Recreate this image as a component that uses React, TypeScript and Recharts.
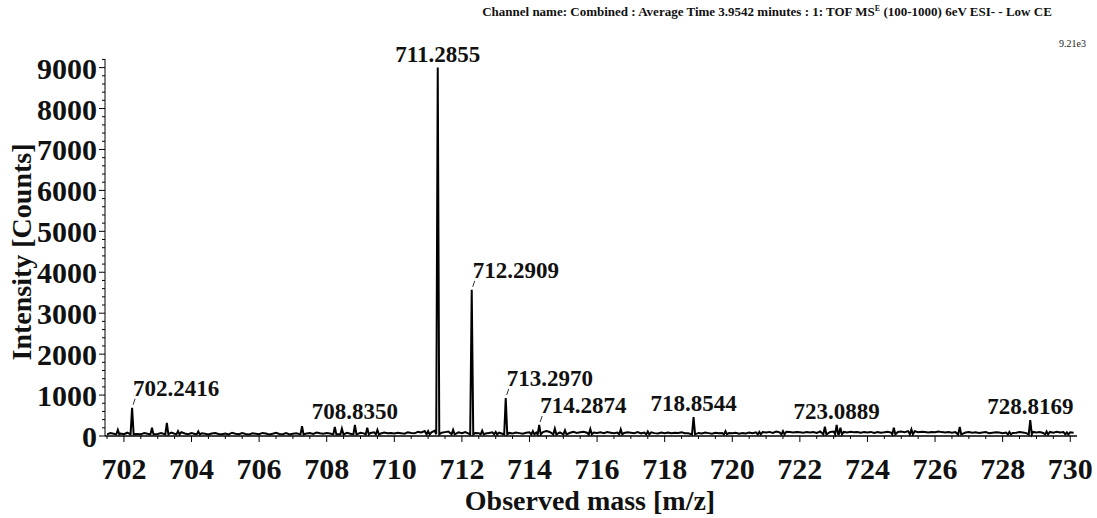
import React from "react";
import { ComposedChart, Line, Scatter, XAxis, YAxis } from "recharts";

// Labelled peaks (m/z, intensity in counts)
const LABEL_MZ = [702.2416, 708.835, 711.2855, 712.2909, 713.297, 714.2874, 718.8544, 723.0889, 728.8169];
const LABEL_INT = [690, 270, 9000, 3570, 930, 270, 460, 270, 390];
// peaks whose label sits off to the right with a small leader tick
const LEADER_MZ = [702.2416, 712.2909, 713.297, 714.2874];

// Unlabelled minor peaks
const MINOR_MZ = [701.82, 702.83, 703.27, 703.6, 704.2, 707.27, 708.24, 708.45, 709.2, 709.5, 711.0, 711.74, 712.6, 713.0, 714.1, 714.75, 715.05, 715.8, 716.7, 717.5, 719.8, 720.8, 721.5, 722.74, 723.2, 724.78, 725.3, 726.73, 728.2, 729.3, 729.9];
const MINOR_INT = [150, 200, 320, 120, 110, 240, 220, 180, 200, 150, 120, 150, 130, 100, 120, 180, 140, 170, 160, 110, 120, 100, 120, 230, 200, 200, 160, 220, 100, 110, 90];

// Baseline noise, one value every 0.1 m/z starting at 701.5
const NOISE_START = 701.5;
const NOISE = [
  40, 70, 55, 30, 60,
  45, 80, 35, 60, 50, 40, 75, 55, 90, 60,
  50, 70, 45, 60, 85, 55, 40, 95, 60, 45,
  70, 50, 40, 65, 55, 35, 60, 75, 50, 45,
  60, 40, 80, 55, 45, 70, 50, 35, 65, 55,
  45, 75, 60, 40, 55, 80, 50, 45, 70, 40,
  55, 65, 45, 90, 60, 70, 50, 85, 65, 55,
  75, 60, 110, 70, 90, 60, 80, 55, 70, 95,
  80, 65, 100, 75, 90, 70, 60, 85, 65, 75,
  60, 80, 70, 55, 90, 75, 65, 100, 85, 120,
  110, 90, 130, 100, 80, 95, 110, 75, 85, 90,
  70, 95, 60, 80, 75, 70, 85, 60, 75, 90,
  65, 80, 55, 70, 75, 60, 85, 70, 55, 80,
  90, 70, 85, 110, 95, 120, 100, 85, 110, 90,
  95, 110, 80, 100, 75, 90, 105, 80, 95, 85,
  75, 90, 70, 95, 80, 65, 85, 100, 75, 90,
  80, 70, 95, 65, 85, 75, 90, 70, 60, 85,
  70, 85, 65, 80, 75, 90, 70, 65, 80, 60,
  75, 60, 85, 70, 55, 80, 65, 75, 60, 70,
  65, 80, 55, 70, 60, 85, 70, 90, 75, 95,
  85, 100, 75, 110, 90, 80, 105, 95, 85, 100,
  90, 80, 100, 85, 95, 75, 110, 95, 120, 100,
  110, 95, 120, 100, 85, 105, 90, 100, 80, 95,
  85, 100, 75, 95, 80, 90, 105, 85, 120, 100,
  110, 95, 120, 100, 115, 90, 105, 95, 85, 100,
  90, 110, 95, 85, 100, 80, 95, 90, 105, 85,
  95, 80, 90, 75, 85, 95, 70, 80, 90, 85,
  70, 85, 90, 75, 80, 95, 85, 70, 90, 100,
  85, 95, 75, 90, 100, 80, 105, 85, 95, 110,
  90, 80,
];

const X_TICKS = Array.from({ length: 58 }, (_, i) => 701.5 + i * 0.5);
const Y_TICKS = Array.from({ length: 47 }, (_, i) => i * 200);

const PEAK_FOOT = 40;
const HALF_WIDTH = 0.045;
const FONT = '"Liberation Serif", "Times New Roman", serif';

const allPeaks = [
  ...LABEL_MZ.map((mz, i) => ({ mz, h: LABEL_INT[i] })),
  ...MINOR_MZ.map((mz, i) => ({ mz, h: MINOR_INT[i] })),
];

const spectrum = (() => {
  const pts = NOISE.map((v, i) => ({ mz: +(NOISE_START + i * 0.1).toFixed(2), intensity: v }))
    .filter((p) => !allPeaks.some((k) => Math.abs(k.mz - p.mz) < 0.07));
  allPeaks.forEach((k) => {
    pts.push({ mz: k.mz - HALF_WIDTH, intensity: PEAK_FOOT });
    pts.push({ mz: k.mz, intensity: k.h });
    pts.push({ mz: k.mz + HALF_WIDTH, intensity: PEAK_FOOT });
  });
  return pts.sort((a, b) => a.mz - b.mz);
})();

const labelData = LABEL_MZ.map((mz, i) => ({
  mz,
  intensity: LABEL_INT[i],
  text: mz.toFixed(4),
  leader: LEADER_MZ.includes(mz),
}));

const XTick = ({ x, y, payload }: any) => {
  const v = payload.value;
  const major = Math.abs(v % 2) < 1e-6;
  return (
    <g>
      <line x1={x} x2={x} y1={y} y2={y + (major ? 6 : 3)} stroke="#000" strokeWidth={1} />
      {major && (
        <text x={x} y={y + 43} textAnchor="middle" fontFamily={FONT} fontWeight="bold" fontSize={30} fill="#111">
          {v}
        </text>
      )}
    </g>
  );
};

const YTick = ({ x, y, payload }: any) => {
  const v = payload.value;
  const major = v % 1000 === 0;
  return (
    <g>
      <line x1={x} x2={x - (major ? 6 : 3)} y1={y} y2={y} stroke="#000" strokeWidth={1} />
      {major && (
        <text x={x - 8} y={y + 11} textAnchor="end" fontFamily={FONT} fontWeight="bold" fontSize={30} fill="#111">
          {v}
        </text>
      )}
    </g>
  );
};

const PeakLabel = ({ cx, cy, payload }: any) => {
  if (payload.leader) {
    return (
      <g>
        <line x1={cx + 1} y1={cy - 3} x2={cx + 3} y2={cy - 9} stroke="#333" strokeWidth={1} />
        <text x={cx + 1} y={cy - 12} fontFamily={FONT} fontWeight="bold" fontSize={23} fill="#111">
          {payload.text}
        </text>
      </g>
    );
  }
  return (
    <text x={cx} y={cy - 6} textAnchor="middle" fontFamily={FONT} fontWeight="bold" fontSize={23} fill="#111">
      {payload.text}
    </text>
  );
};

export default function App() {
  return (
    <div style={{ position: "absolute", left: 0, top: 0, width: 1097, height: 518, background: "#fff", fontFamily: FONT }}>
      <div style={{ position: "absolute", left: 440, width: 654, top: 4, textAlign: "center", fontSize: 13, fontWeight: "bold", color: "#111", whiteSpace: "nowrap" }}>
        Channel name: Combined : Average Time 3.9542 minutes : 1: TOF MS<sup style={{ fontSize: 8 }}>E</sup> (100-1000) 6eV ESI- - Low CE
      </div>
      <div style={{ position: "absolute", right: 11, top: 38, fontSize: 10, color: "#222" }}>9.21e3</div>
      <div
        style={{
          position: "absolute",
          left: 22,
          top: 252,
          transform: "translate(-50%, -50%) rotate(-90deg)",
          fontSize: 28,
          fontWeight: "bold",
          color: "#111",
          whiteSpace: "nowrap",
          lineHeight: 1,
        }}
      >
        Intensity [Counts]
      </div>
      <div style={{ position: "absolute", left: 0, width: 1180, top: 487, textAlign: "center", fontSize: 28, fontWeight: "bold", color: "#111", lineHeight: 1 }}>
        Observed mass [m/z]
      </div>
      <ComposedChart
        width={1097}
        height={518}
        data={spectrum}
        margin={{ top: 59, right: 20, left: 0, bottom: 0 }}
        style={{ position: "absolute", left: 0, top: 0 }}
      >
        <XAxis
          type="number"
          dataKey="mz"
          domain={[701.44, 730.2]}
          ticks={X_TICKS}
          interval={0}
          height={82}
          tickSize={0}
          tickMargin={0}
          tick={<XTick />}
          axisLine={{ stroke: "#000", strokeWidth: 1.5 }}
        />
        <YAxis
          type="number"
          domain={[0, 9210]}
          ticks={Y_TICKS}
          interval={0}
          width={105}
          tickSize={0}
          tickMargin={0}
          tick={<YTick />}
          axisLine={{ stroke: "#000", strokeWidth: 1 }}
        />
        <Line
          type="linear"
          dataKey="intensity"
          stroke="#000"
          strokeWidth={2}
          dot={false}
          activeDot={false}
          isAnimationActive={false}
        />
        <Scatter data={labelData} dataKey="intensity" shape={<PeakLabel />} isAnimationActive={false} />
      </ComposedChart>
    </div>
  );
}
